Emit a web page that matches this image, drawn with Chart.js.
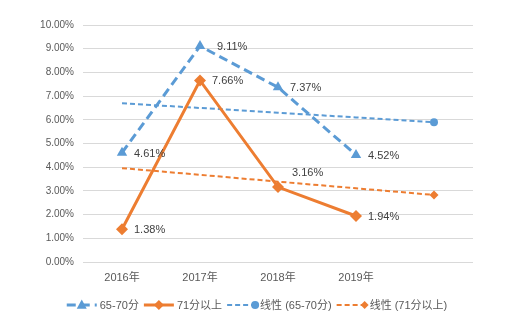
<!DOCTYPE html>
<html><head><meta charset="utf-8">
<script src="https://cdn.jsdelivr.net/npm/chart.js@4"></script>
<style>html,body{margin:0;padding:0;background:#fff}#wrap{width:522px;height:327px;position:relative}</style>
</head><body><div id="wrap"><canvas id="c" width="522" height="327"></canvas></div>
<script>
const categories = ['2016年', '2017年', '2018年', '2019年', ''];
const seriesNames = ['65-70分', '71分以上', '线性 (65-70分)', '线性 (71分以上)'];
const values6570 = [4.61, 9.11, 7.37, 4.52];
const values71 = [1.38, 7.66, 3.16, 1.94];
const trend6570 = [6.70, 6.50, 6.30, 6.10, 5.90];
const trend71 = [3.96, 3.68, 3.39, 3.11, 2.83];
const yMin = 0, yMax = 10, yStep = 1;

const BLUE = '#5B9BD5', ORANGE = '#ED7D31';
const FONT = "'Liberation Sans', 'Noto Sans CJK SC', sans-serif";

// label placement per point (right of point, farther right, or above-right)
const labelPlacement = [
  ['right', 'far', 'right', 'right'],
  ['right', 'right', 'above', 'right']
];

function drawMarker(ctx, style, x, y, r, color) {
  ctx.save();
  ctx.fillStyle = color;
  ctx.beginPath();
  if (style === 'triangle') {
    ctx.moveTo(x, y - r * 1.1);
    ctx.lineTo(x + r, y + r * 0.75);
    ctx.lineTo(x - r, y + r * 0.75);
  } else if (style === 'rectRot') {
    ctx.moveTo(x, y - r); ctx.lineTo(x + r, y); ctx.lineTo(x, y + r); ctx.lineTo(x - r, y);
  } else {
    ctx.arc(x, y, r, 0, Math.PI * 2);
  }
  ctx.closePath();
  ctx.fill();
  ctx.restore();
}

const labelPlugin = {
  id: 'valueLabels',
  afterDatasetsDraw(chart) {
    const ctx = chart.ctx;
    ctx.save();
    ctx.font = '11px ' + FONT;
    ctx.fillStyle = '#404040';
    ctx.textBaseline = 'middle';
    ctx.textAlign = 'left';
    [0, 1].forEach(di => {
      const meta = chart.getDatasetMeta(di);
      const ds = chart.data.datasets[di];
      meta.data.forEach((pt, j) => {
        const v = ds.data[j];
        if (v == null) return;
        const txt = v.toFixed(2) + '%';
        const place = labelPlacement[di][j];
        if (place === 'above') ctx.fillText(txt, pt.x + 14, pt.y - 14);
        else if (place === 'far') ctx.fillText(txt, pt.x + 17, pt.y + 1);
        else ctx.fillText(txt, pt.x + 12, pt.y + 1);
      });
    });
    ctx.restore();
  }
};

const legendPlugin = {
  id: 'lineLegend',
  afterDraw(chart) {
    const ctx = chart.ctx;
    ctx.save();
    ctx.font = '11px ' + FONT;
    ctx.textBaseline = 'middle';
    const sampleW = 30, gapAfterSample = 3, gapItem = 5;
    const items = chart.data.datasets.map((ds, i) => ({
      ds, text: seriesNames[i], w: sampleW + gapAfterSample + ctx.measureText(seriesNames[i]).width
    }));
    const total = items.reduce((s, it) => s + it.w, 0) + gapItem * (items.length - 1);
    let x = (chart.width - total) / 2 - 4;
    const y = 305;
    items.forEach((it, i) => {
      const ds = it.ds;
      ctx.save();
      ctx.strokeStyle = ds.borderColor;
      ctx.lineWidth = ds.borderWidth;
      ctx.setLineDash(ds.borderDash || []);
      ctx.beginPath();
      ctx.moveTo(x, y); ctx.lineTo(x + sampleW, y);
      ctx.stroke();
      ctx.restore();
      const isTrend = i >= 2;
      const mx = isTrend ? x + sampleW - 2 : x + sampleW / 2;
      drawMarker(ctx, ds.legendMarker, mx, y, isTrend ? 4 : 5, ds.borderColor);
      ctx.fillStyle = '#595959';
      ctx.textAlign = 'left';
      ctx.fillText(it.text, x + sampleW + gapAfterSample, y + 1);
      x += it.w + gapItem;
    });
    ctx.restore();
  }
};

new Chart(document.getElementById('c'), {
  type: 'line',
  data: {
    labels: categories,
    datasets: [
      {
        label: seriesNames[0], data: values6570,
        borderColor: BLUE, backgroundColor: BLUE, borderWidth: 3, borderDash: [9, 5],
        pointStyle: 'triangle', pointRadius: 6, pointBorderWidth: 0, pointBackgroundColor: BLUE,
        legendMarker: 'triangle', tension: 0, order: 1
      },
      {
        label: seriesNames[1], data: values71,
        borderColor: ORANGE, backgroundColor: ORANGE, borderWidth: 3,
        pointStyle: 'rectRot', pointRadius: 6, pointBorderWidth: 0, pointBackgroundColor: ORANGE,
        legendMarker: 'rectRot', tension: 0, order: 2
      },
      {
        label: seriesNames[2], data: trend6570,
        borderColor: BLUE, backgroundColor: BLUE, borderWidth: 2, borderDash: [5, 3],
        pointStyle: 'circle', pointRadius: [0, 0, 0, 0, 4], pointBorderWidth: 0, pointBackgroundColor: BLUE,
        legendMarker: 'circle', tension: 0, order: 3
      },
      {
        label: seriesNames[3], data: trend71,
        borderColor: ORANGE, backgroundColor: ORANGE, borderWidth: 2, borderDash: [5, 3],
        pointStyle: 'rectRot', pointRadius: [0, 0, 0, 0, 4.5], pointBorderWidth: 0, pointBackgroundColor: ORANGE,
        legendMarker: 'rectRot', tension: 0, order: 4
      }
    ]
  },
  options: {
    responsive: false,
    animation: false,
    devicePixelRatio: 1,
    layout: { padding: { top: 25, right: 49, left: 0, bottom: 0 } },
    plugins: { legend: { display: false }, tooltip: { enabled: false } },
    scales: {
      x: {
        offset: true,
        grid: { display: false, drawTicks: false },
        border: { display: false },
        ticks: { color: '#595959', font: { size: 11, family: FONT }, padding: 9, maxRotation: 0, autoSkip: false },
        afterFit(s) { s.height = 65; }
      },
      y: {
        min: yMin, max: yMax,
        grid: { color: '#d9d9d9', lineWidth: 1, drawTicks: false },
        border: { display: false },
        ticks: { stepSize: yStep, color: '#595959', font: { size: 10, family: FONT }, padding: 9,
          callback: v => v.toFixed(2) + '%' },
        afterFit(s) { s.width = 83; }
      }
    }
  },
  plugins: [labelPlugin, legendPlugin]
});
</script>
</body></html>
